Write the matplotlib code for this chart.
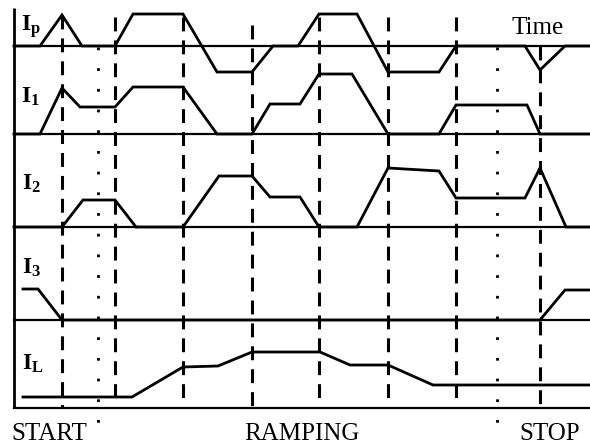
import matplotlib
matplotlib.use('Agg')
import matplotlib.pyplot as plt

plt.rcParams['font.family'] = ['Liberation Serif', 'DejaVu Serif']
plt.rcParams['mathtext.fontset'] = 'custom'
plt.rcParams['mathtext.rm'] = 'Liberation Serif'
plt.rcParams['mathtext.bf'] = 'Liberation Serif:bold'
plt.rcParams['lines.scale_dashes'] = False

# time axis runs in the same units as the picture (left edge = 14)
t_start = 14
t_end = 590

# current waveforms: breakpoints (time) and level above each trace's baseline
ip_t = [14, 40, 62, 82, 115, 133, 183, 217, 252, 273, 298, 319, 357, 388, 439, 456, 525, 540, 565, 590]
ip_v = [0, 0, 31, 0, 0, 32, 32, -26, -26, 0, 0, 32, 32, -26, -26, 0, 0, -24, 0, 0]

i1_t = [14, 40, 62, 80, 115, 133, 183, 217, 252, 270, 300, 319, 352, 388, 439, 456, 527, 540, 590]
i1_v = [0, 0, 46, 27, 27, 47, 47, 0, 0, 30, 30, 60, 60, 0, 0, 29, 29, 0, 0]

i2_t = [14, 62, 83, 115, 136, 183, 219, 252, 270, 300, 319, 357, 388, 439, 456, 525, 540, 566, 590]
i2_v = [0, 0, 27, 27, 0, 0, 51, 51, 30, 30, 0, 0, 59, 56, 29, 29, 59, 0, 0]

i3_t = [23, 38, 62, 540, 565, 590]
i3_v = [31, 31, 0, 0, 30, 30]

il_t = [23, 132, 183, 218, 252, 320, 350, 388, 433, 590]
il_v = [11, 11, 41, 42, 56, 56, 43, 43, 23, 23]

signals = [(ip_t, ip_v), (i1_t, i1_v), (i2_t, i2_v), (i3_t, i3_v), (il_t, il_v)]
signal_names = [r'$\mathbf{I_p}$', r'$\mathbf{I_1}$', r'$\mathbf{I_2}$', r'$\mathbf{I_3}$', r'$\mathbf{I_L}$']

# event markers
dashed_times = [62, 115, 183, 252, 319, 388, 456, 540]
dotted_times = [98, 497]

phase_names = ['START', 'RAMPING', 'STOP']

# layout (pixel rows, y grows downward)
baselines = [46, 134, 227, 320, 408]
name_pos = [(21, 27), (21, 97), (22, 184), (22, 268), (22, 364)]
dash_tops = [15, 17, 17, 25, 17, 17, 17, 46]
phase_x = [11, 244, 519]

fig = plt.figure(figsize=(5.9, 4.44), dpi=100)
ax = fig.add_axes([0, 0, 1, 1])
ax.set_xlim(0, 590)
ax.set_ylim(444, 0)
ax.axis('off')

lw = 2.0
# vertical axis
ax.plot([t_start, t_start], [8, baselines[-1]], color='black', lw=lw, solid_capstyle='butt')

for (t, v), base in zip(signals, baselines):
    ax.plot([t_start, t_end], [base, base], color='black', lw=1.6)
    ax.plot(t, [base - val for val in v], color='black', lw=lw, solid_joinstyle='miter')

for x, top in zip(dashed_times, dash_tops):
    ax.plot([x, x], [top, baselines[-1]], color='black', lw=2.2,
            linestyle=(0, (10, 6.5)), dash_capstyle='butt')

for x in dotted_times:
    ax.plot([x, x], [47, 426], color='black', lw=2.0,
            linestyle=(0, (2, 12.9)), dash_capstyle='butt')

for name, (x, y) in zip(signal_names, name_pos):
    ax.text(x, y, name, fontsize=17, ha='left', va='center')

ax.text(511, 28, 'Time', fontsize=18, ha='left', va='center')

for name, x in zip(phase_names, phase_x):
    ax.text(x, 434, name, fontsize=18, ha='left', va='center')

fig.savefig('out.png', dpi=100)
